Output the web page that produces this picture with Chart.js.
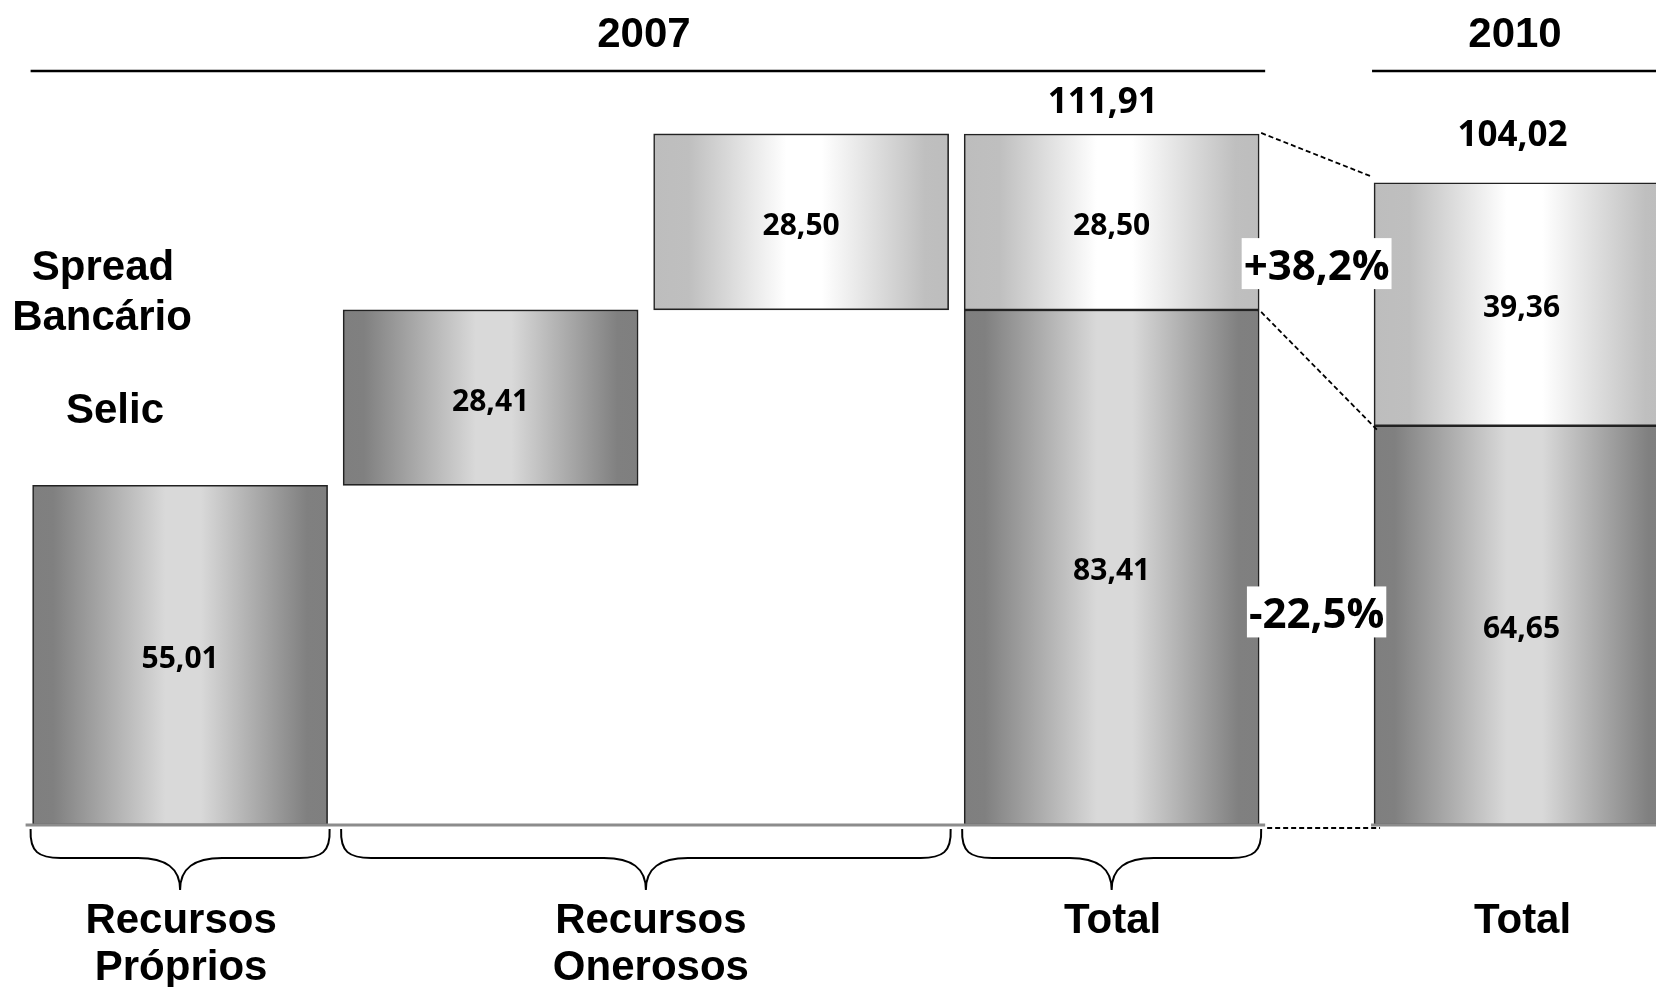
<!DOCTYPE html>
<html>
<head>
<meta charset="utf-8">
<script src="https://cdn.jsdelivr.net/npm/chart.js@4.4.1/dist/chart.umd.min.js"></script>
<style>
  html, body { margin: 0; padding: 0; background: #ffffff; }
  #wrap { position: relative; width: 1656px; height: 987px; }
</style>
</head>
<body>
<div id="wrap"><canvas id="c"></canvas></div>
<script>
// ---------------- data ----------------
const categories   = ['Recursos Próprios', 'Recursos Onerosos', 'Recursos Onerosos', 'Total', 'Total'];
const periodOfBar  = ['2007', '2007', '2007', '2007', '2010'];
const barKind      = ['step', 'step', 'step', 'total', 'total'];
const selicValues  = [55.01, 28.41, null, 83.41, 64.65];
const spreadValues = [null, null, 28.50, 28.50, 39.36];
const totalValues  = [null, null, null, 111.91, 104.02];
const seriesNames  = ['Selic', 'Spread Bancário'];
const periodTitles = ['2007', '2010'];
const groupLabels  = [['Recursos', 'Próprios'], ['Recursos', 'Onerosos'], ['Total'], ['Total']];
const groupBars    = [[0], [1, 2], [3], [4]];
const changeLabels = ['+38,2%', '-22,5%'];

// ---------------- layout (not data) ----------------
const slotPos = [0, 1, 2, 3, 4.32];
const BAR_W = 295;
const fmt = v => v.toFixed(2).replace('.', ',');

// build floating bars (waterfall for steps, stacked for totals)
const selicData = [], spreadData = [];
let running = 0;
categories.forEach((c, i) => {
  if (barKind[i] === 'step') {
    if (selicValues[i] != null) { selicData.push({x: slotPos[i], y: [running, running + selicValues[i]], v: selicValues[i], i}); running += selicValues[i]; }
    if (spreadValues[i] != null) { spreadData.push({x: slotPos[i], y: [running, running + spreadValues[i]], v: spreadValues[i], i}); running += spreadValues[i]; }
  } else {
    const s = selicValues[i] || 0;
    selicData.push({x: slotPos[i], y: [0, s], v: s, i});
    if (spreadValues[i] != null) spreadData.push({x: slotPos[i], y: [s, s + spreadValues[i]], v: spreadValues[i], i});
  }
});

function makeGradient(context, stops, fallback) {
  const chart = context.chart;
  const xs = chart.scales && chart.scales.x;
  if (!xs || !chart.chartArea || !context.raw) return fallback;
  const cx = xs.getPixelForValue(context.raw.x);
  const g = chart.ctx.createLinearGradient(cx - BAR_W / 2, 0, cx + BAR_W / 2, 0);
  stops.forEach(s => g.addColorStop(s[0], s[1]));
  return g;
}
const darkStops  = [[0, '#7f7f7f'], [0.07, '#808080'], [0.45, '#d9d9d9'], [0.57, '#d9d9d9'], [0.93, '#808080'], [1, '#7f7f7f']];
const lightStops = [[0, '#bdbdbd'], [0.12, '#bfbfbf'], [0.45, '#ffffff'], [0.57, '#ffffff'], [0.92, '#bfbfbf'], [1, '#bdbdbd']];

const FONT_VAL = '"Open Sans", "DejaVu Sans", sans-serif';
const FONT_TXT = '"Liberation Sans", Arial, sans-serif';

function brace(ctx, L, R, top, mid, tip) {
  const cx = (L + R) / 2;
  ctx.beginPath();
  ctx.moveTo(L, top);
  ctx.bezierCurveTo(L - 1, mid - 6, L + 8, mid, L + 30, mid);
  ctx.lineTo(cx - 42, mid);
  ctx.bezierCurveTo(cx - 14, mid, cx, mid + 10, cx, tip);
  ctx.moveTo(R, top);
  ctx.bezierCurveTo(R + 1, mid - 6, R - 8, mid, R - 30, mid);
  ctx.lineTo(cx + 42, mid);
  ctx.bezierCurveTo(cx + 14, mid, cx, mid + 10, cx, tip);
  ctx.stroke();
}

const decor = {
  id: 'decor',
  afterDatasetsDraw(chart) {
    const ctx = chart.ctx;
    const xs = chart.scales.x, ys = chart.scales.y;
    const px = i => xs.getPixelForValue(slotPos[i]);
    const left = i => px(i) - BAR_W / 2, right = i => px(i) + BAR_W / 2;
    const y0 = ys.getPixelForValue(0);
    ctx.save();

    // baseline segments
    ctx.strokeStyle = '#8c8c8c'; ctx.lineWidth = 3;
    ctx.beginPath();
    ctx.moveTo(left(0) - 7, y0); ctx.lineTo(right(3) + 6, y0);
    ctx.moveTo(left(4) - 3, y0); ctx.lineTo(chart.width, y0);
    ctx.stroke();

    // dashed connectors
    const s3 = selicValues[3], t3 = totalValues[3], s4 = selicValues[4], t4 = s4 + spreadValues[4];
    ctx.strokeStyle = '#000'; ctx.lineWidth = 1.8; ctx.setLineDash([5, 3]);
    ctx.beginPath();
    ctx.moveTo(right(3) + 2, ys.getPixelForValue(t3) - 1); ctx.lineTo(left(4) - 2, ys.getPixelForValue(t4) - 6);
    ctx.moveTo(right(3) + 2, ys.getPixelForValue(s3) + 2); ctx.lineTo(left(4) + 4, ys.getPixelForValue(s4) + 5);
    ctx.moveTo(right(3) + 8, y0 + 3); ctx.lineTo(left(4) + 6, y0 + 3);
    ctx.stroke();
    ctx.setLineDash([]);

    // value labels inside bars
    ctx.fillStyle = '#000'; ctx.textAlign = 'center'; ctx.textBaseline = 'alphabetic';
    ctx.font = 'bold 30px ' + FONT_VAL;
    [selicData, spreadData].forEach(arr => arr.forEach(d => {
      const yc = (ys.getPixelForValue(d.y[0]) + ys.getPixelForValue(d.y[1])) / 2;
      ctx.fillText(fmt(d.v), xs.getPixelForValue(d.x), yc + 13);
    }));
    // totals above bars
    const totOffsets = [21, 37];
    let k = 0;
    ctx.font = 'bold 35px ' + FONT_VAL;
    totalValues.forEach((t, i) => {
      if (t == null) return;
      const top = ys.getPixelForValue((selicValues[i] || 0) + (spreadValues[i] || 0));
      ctx.fillText(fmt(t), px(i) - 9, top - totOffsets[k++]);
    });

    // change labels with white boxes
    const gx = (right(3) + left(4)) / 2;
    const ySpread = ((ys.getPixelForValue(s3) + ys.getPixelForValue(t3)) + (ys.getPixelForValue(s4) + ys.getPixelForValue(t4))) / 4;
    const ySelic = ((ys.getPixelForValue(0) + ys.getPixelForValue(s3)) + (ys.getPixelForValue(0) + ys.getPixelForValue(s4))) / 4;
    const changeY = [ySpread + 1, ySelic + 16];
    ctx.font = 'bold 42px ' + FONT_VAL;
    changeLabels.forEach((lab, j) => {
      const w = ctx.measureText(lab).width;
      ctx.fillStyle = '#fff';
      ctx.fillRect(gx - w / 2 - 2, changeY[j] - 26, w + 4, 51);
      ctx.fillStyle = '#000';
      ctx.fillText(lab, gx, changeY[j] + 16);
    });

    // braces
    ctx.strokeStyle = '#000'; ctx.lineWidth = 2;
    groupBars.slice(0, 3).forEach(g => {
      brace(ctx, left(g[0]) - 2, right(g[g.length - 1]) + 2, y0 + 4, y0 + 33, y0 + 65);
    });

    // group labels
    ctx.font = 'bold 42px ' + FONT_TXT;
    groupBars.forEach((g, j) => {
      const cx = (px(g[0]) + px(g[g.length - 1])) / 2;
      const dx = j === 1 ? 5 : 1;
      groupLabels[j].forEach((line, l) => ctx.fillText(line, cx + dx, 933 + l * 47));
    });

    // period titles & lines
    ctx.lineWidth = 2.5;
    ctx.beginPath();
    ctx.moveTo(left(0) - 2, 71); ctx.lineTo(right(3) + 6, 71);
    ctx.moveTo(left(4) - 2, 71); ctx.lineTo(chart.width, 71);
    ctx.stroke();
    ctx.fillText(periodTitles[0], (left(0) + right(3)) / 2 - 2, 47);
    ctx.fillText(periodTitles[1], 1515, 47);

    // series legend text
    ctx.fillText('Spread', 103, 280);
    ctx.fillText('Bancário', 102, 330);
    ctx.fillText(seriesNames[0], 115, 423);
    ctx.restore();
  }
};

new Chart(document.getElementById('c'), {
  type: 'bar',
  data: {
    datasets: [
      {
        label: seriesNames[0], data: selicData, stack: 's',
        backgroundColor: c => makeGradient(c, darkStops, '#a0a0a0'),
        borderColor: '#222222', borderWidth: 1.6, borderSkipped: false
      },
      {
        label: seriesNames[1], data: spreadData, stack: 's',
        backgroundColor: c => makeGradient(c, lightStops, '#dddddd'),
        borderColor: '#222222', borderWidth: 1.6, borderSkipped: false
      }
    ]
  },
  options: {
    responsive: true, maintainAspectRatio: false, animation: false,
    barThickness: BAR_W,
    layout: { padding: { top: 84, bottom: 162, left: 0, right: 0 } },
    plugins: { legend: { display: false }, tooltip: { enabled: false }, title: { display: false } },
    scales: {
      x: { type: 'linear', display: false, offset: false, min: -0.58, max: 4.753, grid: { display: false, offset: false } },
      y: { display: false, stacked: false, min: 0, max: 120, grid: { display: false } }
    }
  },
  plugins: [decor]
});
</script>
</body>
</html>
